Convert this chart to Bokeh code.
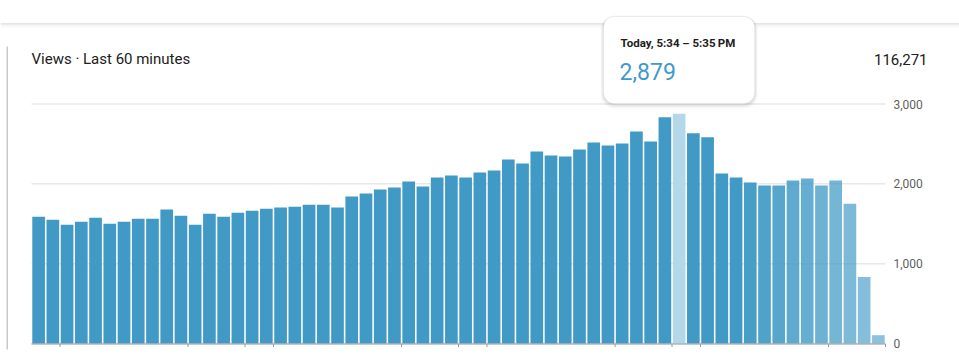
from bokeh.plotting import figure
from bokeh.models import Range1d, Label, BoxAnnotation, ColumnDataSource
from bokeh.core.properties import value
from bokeh.embed import file_html
from bokeh.resources import INLINE

# ---------------- data ----------------
views = [1589, 1551, 1488, 1526, 1576, 1501, 1526, 1564, 1564, 1677,
         1601, 1488, 1626, 1589, 1639, 1664, 1689, 1702, 1714, 1739,
         1739, 1702, 1840, 1878, 1928, 1953, 2029, 1966, 2079, 2104,
         2079, 2142, 2167, 2305, 2255, 2406, 2356, 2343, 2431, 2519,
         2481, 2506, 2657, 2531, 2834, 2879, 2633, 2582, 2130, 2079,
         2016, 1978, 1978, 2041, 2066, 1978, 2041, 1752, 834, 104]
minutes = list(range(len(views)))
highlight_index = 45
highlight_label = "Today, 5:34 \u2013 5:35\u2009PM"
title_text = "Views \u00b7 Last 60 minutes"
total_views = 116271
y_ticks = [0, 1000, 2000, 3000]
y_tick_labels = [f"{t:,}" for t in y_ticks]
x_tick_edges = [2, 11, 15, 17, 26, 30, 32, 41, 45, 47, 56, 60]

# ---------------- layout (pixel geometry) ----------------
W, H = 959, 360
LEFT, RIGHT_EDGE, BASE_PX, Y3000_PX = 31, 885, 343, 103.5
n = len(views)
ppx = (RIGHT_EDGE - LEFT) / n
ppy = (BASE_PX - Y3000_PX) / 3000

def dx(px):
    return (px - LEFT) / ppx

def dy(py):
    return (BASE_PX - py) / ppy

BAR = "#409AC5"
HI = "#B4D8E9"
colors = [HI if i == highlight_index else BAR for i in minutes]
alphas = [1.0 if i < 50 else round(1.0 - (i - 49) * 0.04, 3) for i in minutes]

src = ColumnDataSource(dict(x=[m + 0.5 for m in minutes], top=views,
                            color=colors, alpha=alphas))

p = figure(width=W, height=H, output_backend="svg", toolbar_location=None,
           x_range=Range1d(dx(0), dx(W)), y_range=Range1d(dy(H), dy(0)),
           x_axis_location=None, y_axis_location=None,
           min_border=0)
p.outline_line_color = None
p.background_fill_color = "white"
p.border_fill_color = "white"
p.grid.visible = False

# horizontal grid lines and right-hand tick labels
p.segment(x0=[0] * len(y_ticks), x1=[n] * len(y_ticks), y0=y_ticks, y1=y_ticks,
          line_color="#e8e8e8", line_width=1.5)
p.text(x=[dx(893)] * len(y_ticks), y=y_ticks, text=y_tick_labels,
       text_font=value("Roboto"), text_font_size="12px", text_color="#5f5f5f",
       text_baseline="middle", text_align="left")

# bars
p.vbar(x="x", top="top", width=0.89, bottom=0, source=src,
       fill_color="color", fill_alpha="alpha", line_color=None)

# baseline axis with small ticks
p.segment(x0=[0], x1=[n], y0=[dy(BASE_PX + 0.5)], y1=[dy(BASE_PX + 0.5)],
          line_color="#8e9ba6", line_width=1)
p.segment(x0=x_tick_edges, x1=x_tick_edges,
          y0=[dy(BASE_PX + 0.5)] * len(x_tick_edges), y1=[dy(BASE_PX + 3.5)] * len(x_tick_edges),
          line_color="#8e9ba6", line_width=1)

# ---------------- page decorations ----------------
p.add_layout(BoxAnnotation(left=dx(0), right=dx(W), top=dy(22.5), bottom=dy(24),
                           fill_color="#e6e6e6", fill_alpha=1, line_color=None, level="overlay"))
for k, a in enumerate([0.05, 0.035, 0.02, 0.01]):
    p.add_layout(BoxAnnotation(left=dx(0), right=dx(W), top=dy(24 + k), bottom=dy(25 + k),
                               fill_color="black", fill_alpha=a, line_color=None, level="overlay"))
p.add_layout(BoxAnnotation(left=dx(6), right=dx(7.5), top=dy(46), bottom=dy(349),
                           fill_color="#c8c8c8", fill_alpha=1, line_color=None, level="overlay"))

p.add_layout(Label(x=dx(31), y=dy(58.5), text=title_text, text_font="Roboto",
                   text_font_size="15px", text_color="#202020", text_baseline="middle",
                   text_align="left", level="overlay"))
p.add_layout(Label(x=dx(927), y=dy(58.5), text=f"{total_views:,}", text_font="Roboto",
                   text_font_size="15px", text_color="#202020", text_baseline="middle",
                   text_align="right", level="overlay"))

# ---------------- tooltip ----------------
cx = highlight_index + 0.5
half = 75.5 / ppx
t_top, t_bot = 16, 103
for grow, down, a in [(3, 2, 0.03), (2, 1.5, 0.04), (1, 1, 0.06)]:
    p.add_layout(BoxAnnotation(left=cx - half - grow / ppx, right=cx + half + grow / ppx,
                               top=dy(t_top - grow + down), bottom=dy(t_bot + grow + down),
                               fill_color="black", fill_alpha=a, line_color=None,
                               border_radius=11 + grow, level="overlay"))
p.add_layout(BoxAnnotation(left=cx - half, right=cx + half, top=dy(t_top), bottom=dy(t_bot),
                           fill_color="white", fill_alpha=1, line_color="#dedede",
                           line_width=1, border_radius=11, level="overlay"))
tx = cx - half + 17 / ppx
p.add_layout(Label(x=tx, y=dy(42.5), text=highlight_label, text_font="Roboto",
                   text_font_size="11.5px", text_font_style="bold", text_color="#202020",
                   text_baseline="middle", text_align="left", level="overlay"))
p.add_layout(Label(x=tx - 1 / ppx, y=dy(70.5), text=f"{views[highlight_index]:,}",
                   text_font="Roboto", text_font_size="23px", text_color="#3F9ACA",
                   text_baseline="middle", text_align="left", level="overlay"))

open("out.html", "w").write(file_html(p, INLINE))
